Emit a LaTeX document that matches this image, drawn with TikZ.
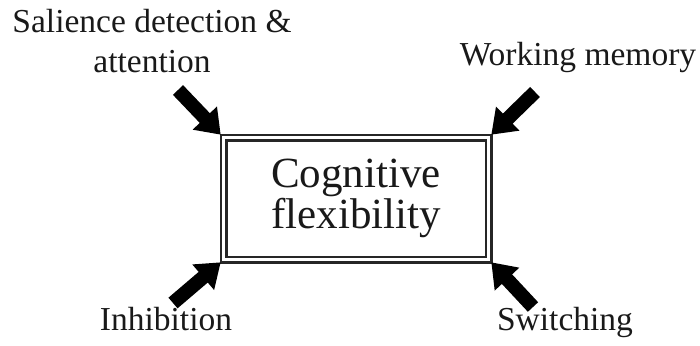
\documentclass[tikz,border=0pt]{standalone}
\usepackage{fontspec}
\setmainfont{Liberation Serif}
\usetikzlibrary{arrows.meta}
\begin{document}
\begin{tikzpicture}[x=1pt,y=-1pt,
  lbl/.style={font=\fontsize{33.5}{39.5}\selectfont, anchor=base, align=center, inner sep=0pt, text=black!90},
  mainbox/.style={draw=black!85, line width=2.4pt, double=white, double distance=3.2pt,
    minimum width=265pt, minimum height=122pt, inner sep=0pt, outer sep=2.8pt,
    font=\fontsize{43}{38}\selectfont, align=center, text=black!90},
  bigarrow/.style={line width=14pt, -{Triangle[length=23pt,width=32pt]}, black}]
\useasboundingbox (0,0) rectangle (700,345);
\node[mainbox] (box) at (356,198.5) {Cognitive\\flexibility};
\node[lbl] (sal) at (152,72) {Salience detection \&\\attention};
\node[lbl] (wm) at (578,65) {Working memory};
\node[lbl] (inh) at (166,330) {Inhibition};
\node[lbl] (sw) at (565,330) {Switching};
\coordinate (a1) at (178,90);
\coordinate (a2) at (535,92);
\coordinate (a3) at (173,303);
\coordinate (a4) at (533,307);
\draw[bigarrow] (a1) -- (box.north west);
\draw[bigarrow] (a2) -- (box.north east);
\draw[bigarrow] (a3) -- (box.south west);
\draw[bigarrow] (a4) -- (box.south east);
\end{tikzpicture}
\end{document}
